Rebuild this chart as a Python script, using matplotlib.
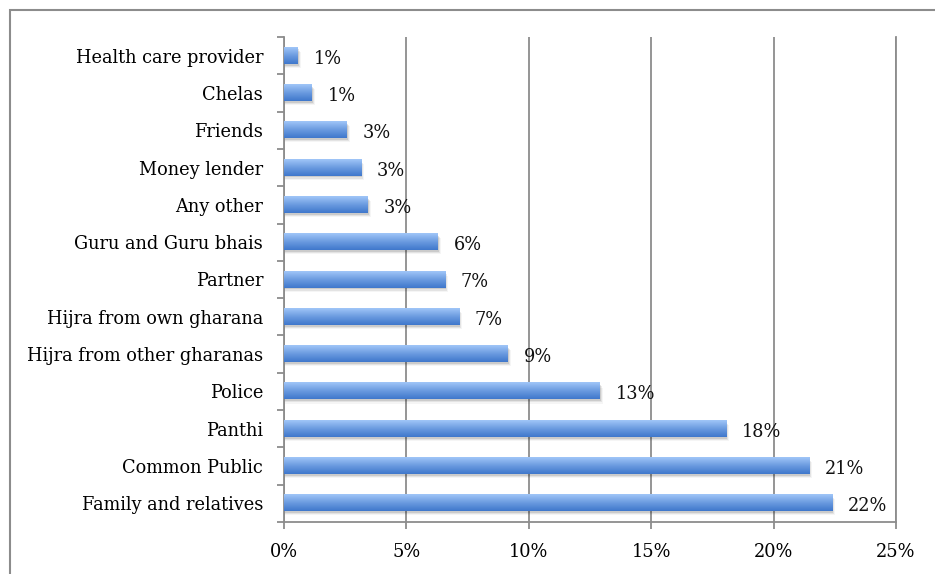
import matplotlib.pyplot as plt
import numpy as np
from matplotlib.colors import LinearSegmentedColormap
from matplotlib.patches import Rectangle

categories = ["Health care provider", "Chelas", "Friends", "Money lender",
              "Any other", "Guru and Guru bhais", "Partner",
              "Hijra from own gharana", "Hijra from other gharanas",
              "Police", "Panthi", "Common Public", "Family and relatives"]
values = [0.57, 1.13, 2.57, 3.15, 3.43, 6.29, 6.58, 7.15, 9.15,
          12.9, 18.06, 21.45, 22.39]
xticks = [0, 5, 10, 15, 20, 25]

plt.rcParams['font.family'] = ['DejaVu Serif']

fig = plt.figure(figsize=(9.35, 5.74), dpi=100)
ax = fig.add_axes([284 / 935, 1 - 522 / 574, 612 / 935, 485 / 574])

# outer frame
fig.patches.append(Rectangle((10 / 935, -0.1), 1.2, 1 - 10 / 574 + 0.1,
                             transform=fig.transFigure, fill=False,
                             edgecolor='#8c8c8c', linewidth=1.5))

cmap = LinearSegmentedColormap.from_list('bar', ['#3f78cc', '#6b9be0', '#a0c6f8'])
grad = np.linspace(1, 0, 64).reshape(-1, 1)

fs = 12.8
n = len(categories)
h = 0.43
for i, (cat, v) in enumerate(zip(categories, values)):
    y = n - 1 - i
    # soft shadow
    for k, a in enumerate([0.10, 0.07, 0.04]):
        off = 0.05 + 0.03 * k
        ax.add_patch(Rectangle((0, y - h / 2 - off), v + 0.04 * (k + 1), h,
                               facecolor='#000000', alpha=a, linewidth=0,
                               zorder=2))
    ax.imshow(grad, cmap=cmap, aspect='auto', extent=[0, v, y - h / 2, y + h / 2],
              zorder=3, interpolation='bilinear')
    ax.text(v + 0.65, y - 0.08, '{:.0f}%'.format(v), va='center', ha='left',
            fontsize=fs, color='#111111', zorder=4)

ax.set_xlim(0, 25)
ax.set_ylim(-0.5, n - 0.5)

ax.set_yticks(range(n))
ax.set_yticklabels(categories[::-1], fontsize=fs)
ax.set_yticks(np.arange(-0.5, n, 1), minor=True)
ax.tick_params(axis='y', which='major', length=0, pad=15)
ax.tick_params(axis='y', which='minor', length=5, width=1.3, color='#8c8c8c')

ax.set_xticks(xticks)
ax.set_xticklabels(['{}%'.format(t) for t in xticks], fontsize=fs)
ax.tick_params(axis='x', length=5, width=1.3, color='#8c8c8c', pad=10)

ax.grid(axis='x', color='#8c8c8c', linewidth=1.3, zorder=1)
ax.set_axisbelow(True)
ax.spines['top'].set_visible(False)
for side in ['left', 'bottom', 'right']:
    ax.spines[side].set_color('#8c8c8c')
    ax.spines[side].set_linewidth(1.3)

fig.savefig('out.png', dpi=100)
